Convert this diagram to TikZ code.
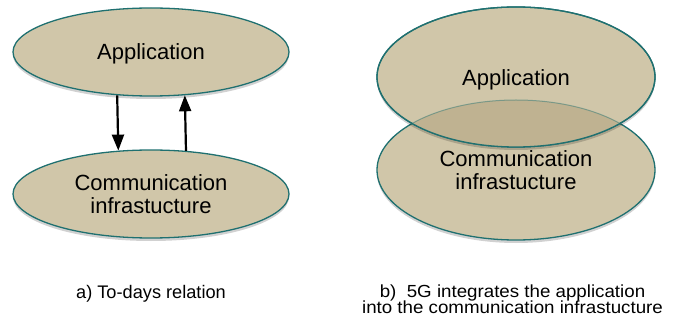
\documentclass[tikz,border=0pt]{standalone}
\usepackage{fontspec}
\setmainfont{Liberation Sans}
\newfontfamily\capfont[FakeStretch=1.07]{Liberation Sans}
\usetikzlibrary{shapes.geometric,arrows.meta,shadows}
\definecolor{tanfill}{HTML}{D0C6A9}
\definecolor{tandark}{HTML}{BFB291}
\definecolor{tealline}{HTML}{1F7070}
\tikzset{
  blob/.style={ellipse, draw=tealline, line width=1.3pt, fill=tanfill, inner sep=0pt,
    font=\fontsize{22}{23}\selectfont, align=center,
    drop shadow={shadow xshift=0pt, shadow yshift=-3pt, opacity=0.18, fill=black}},
  flow/.style={line width=2.2pt, -{Triangle[length=16pt,width=12pt]}},
  caption/.style={font=\fontsize{18.2}{16}\selectfont, anchor=base, inner sep=0pt},
  captionb/.style={font=\capfont\fontsize{17.5}{16}\selectfont, anchor=base, inner sep=0pt}
}
\begin{document}
\begin{tikzpicture}[x=1pt,y=1pt]
\useasboundingbox (0,0) rectangle (682,324);
% left part
\node[blob, minimum width=276pt, minimum height=88pt, text height=16pt, text depth=0pt] (app) at (151,272) {Application};
\node[blob, minimum width=276pt, minimum height=88pt] (comm) at (151,130) {Communication\\infrastucture};
\draw[flow] (app.232.3) -- (comm.127.7);
\draw[flow] (comm.51.4) -- (app.308.6);
% right part
\node[blob, minimum width=278pt, minimum height=140pt] (comm2) at (516,154) {Communication\\infrastucture};
\node[blob, minimum width=278pt, minimum height=140pt, text height=18pt, text depth=0pt] (app2) at (516,247) {Application};
\begin{scope}
  \clip (app2.center) ellipse [x radius=139pt, y radius=70pt];
  \fill[tandark] (comm2.center) ellipse [x radius=139pt, y radius=70pt];
  \draw[tealline, opacity=0.45, line width=1pt] (comm2.center) ellipse [x radius=139pt, y radius=70pt];
\end{scope}
\draw[tealline, line width=1.3pt] (app2.center) ellipse [x radius=139pt, y radius=70pt];
% captions
\node[caption] (capa) at (151,26) {a) To-days relation};
\node[captionb] (capb1) at (512.5,27) {b)~ 5G integrates the application};
\node[captionb] (capb2) at (512.5,11) {into the communication infrastucture};
\end{tikzpicture}
\end{document}
